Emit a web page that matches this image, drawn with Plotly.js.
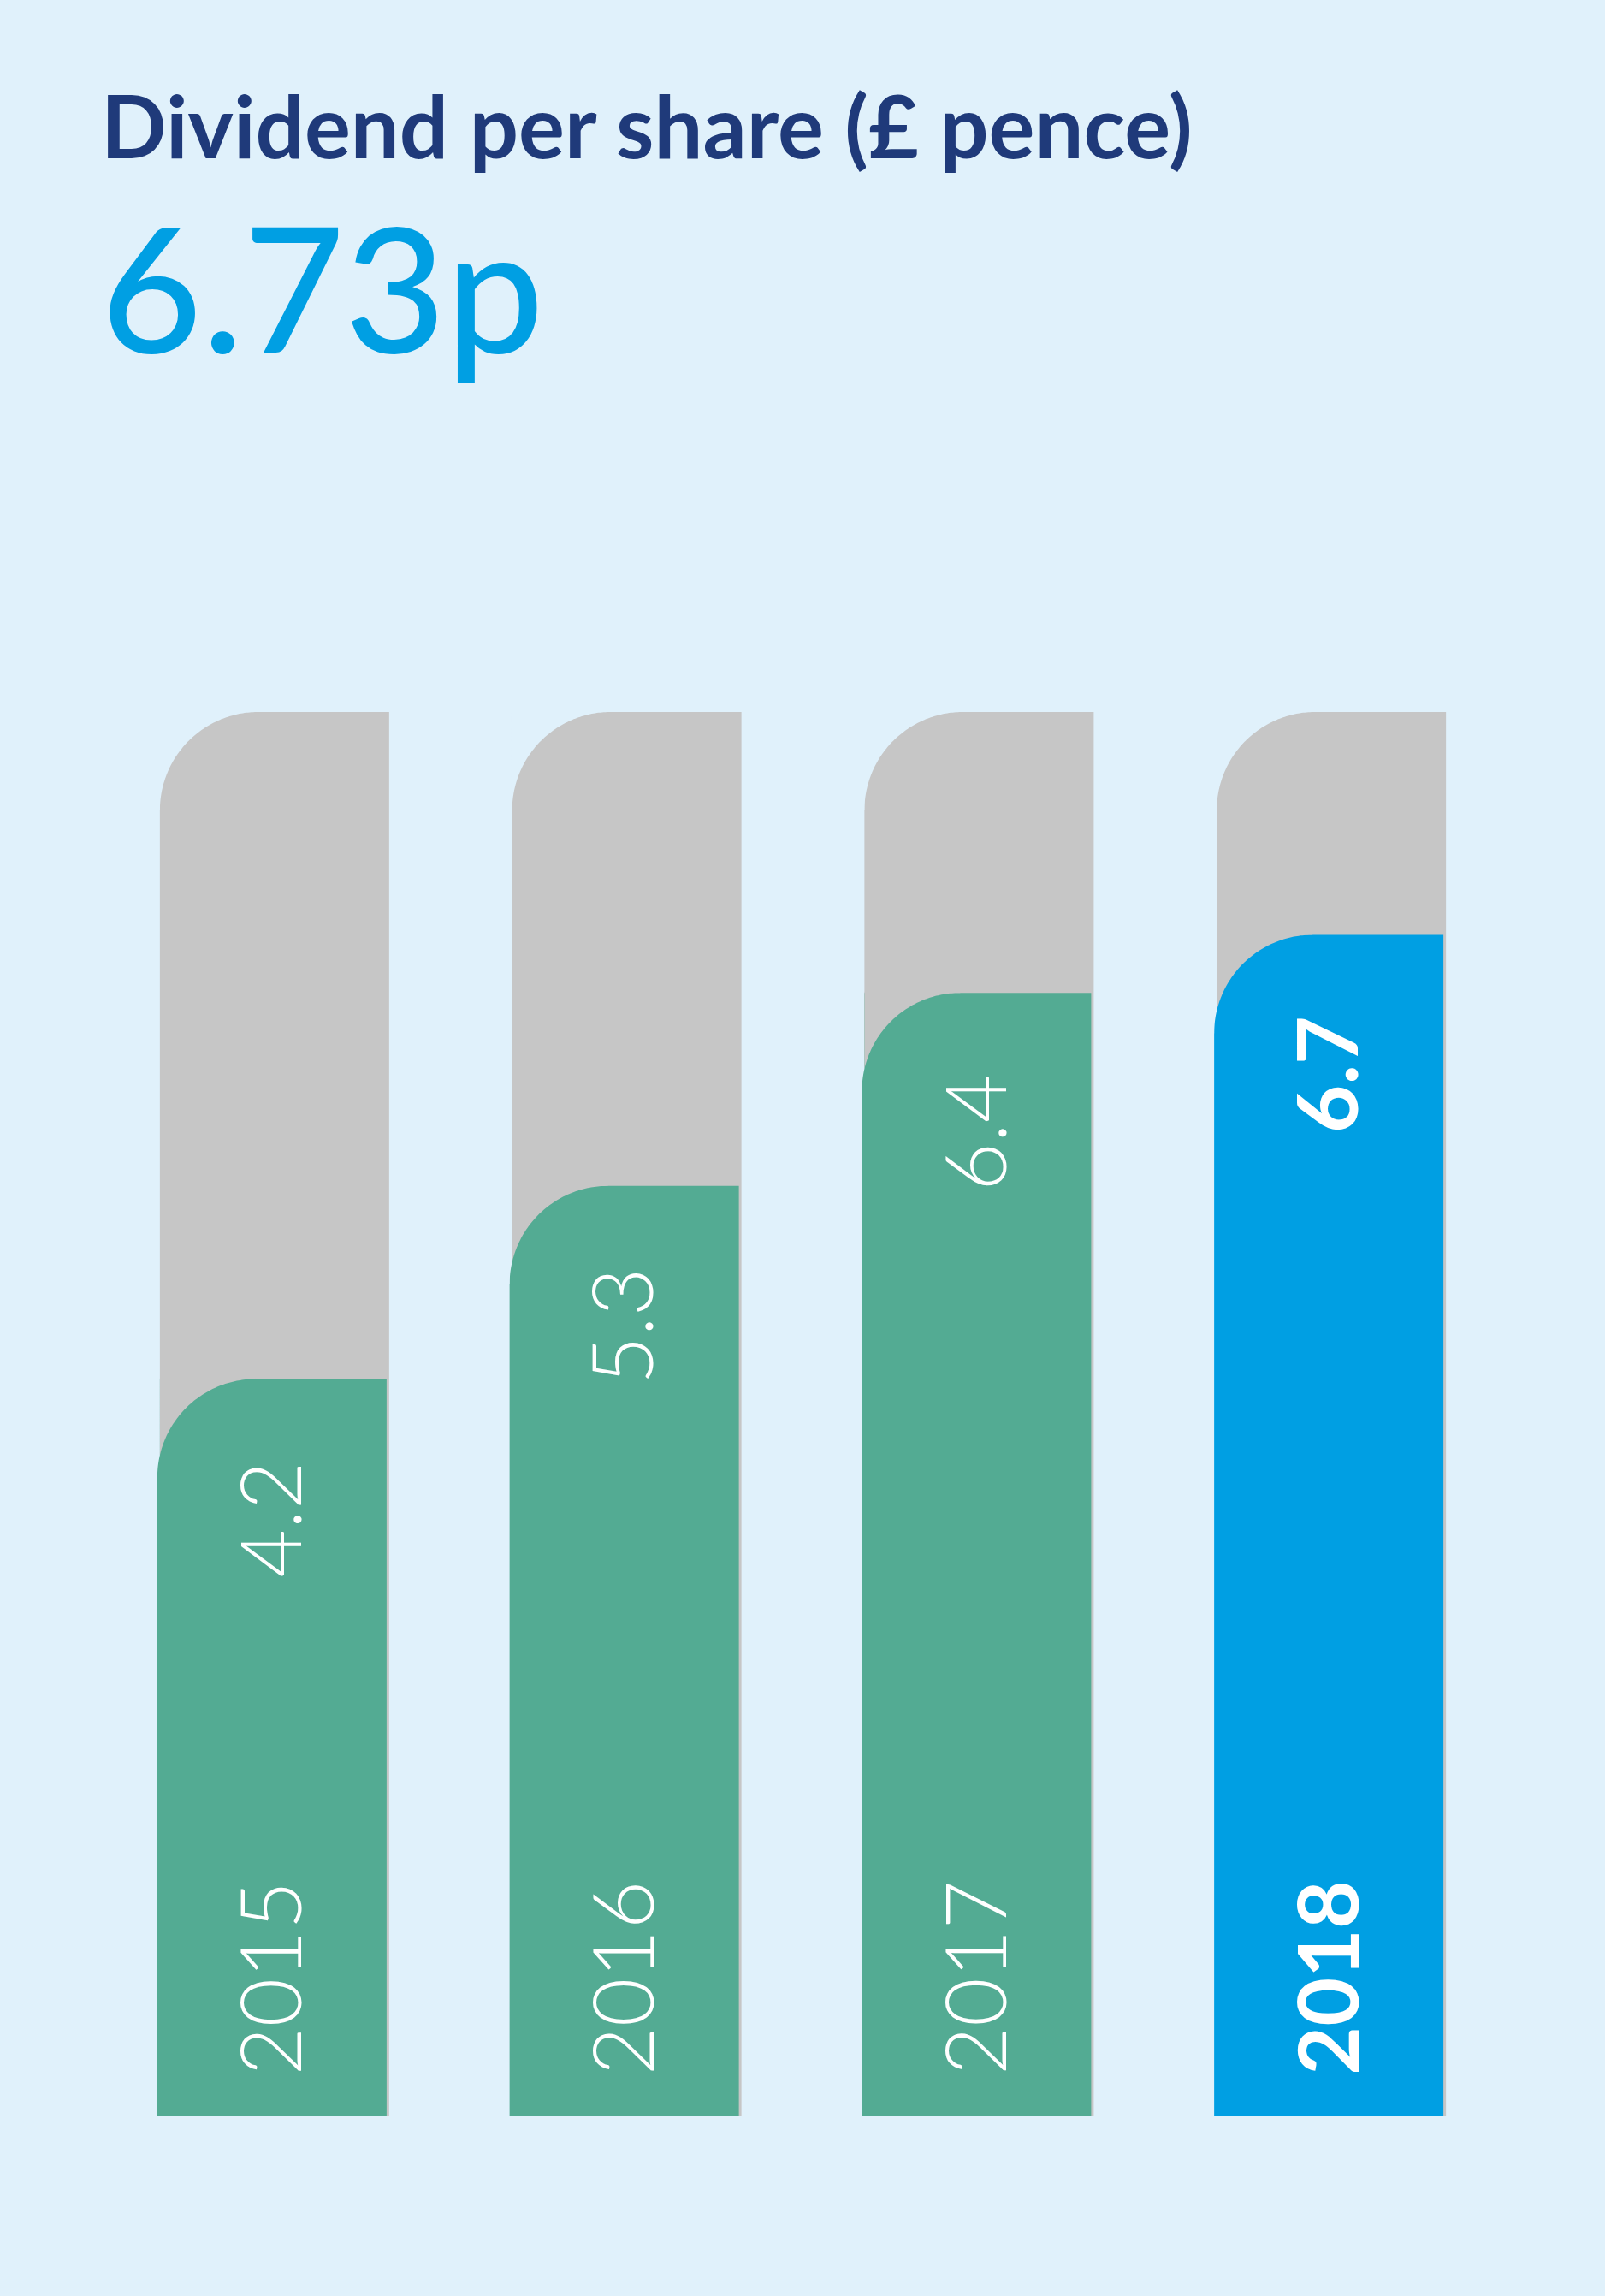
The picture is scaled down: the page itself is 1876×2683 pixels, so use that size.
<!DOCTYPE html>
<html>
<head>
<meta charset="utf-8">
<script src="https://cdn.plot.ly/plotly-3.0.1.min.js"></script>
<style>
html,body{margin:0;padding:0;background:#E0F1FB;}
#chart{width:1876px;height:2683px;}
</style>
</head>
<body>
<div id="chart"></div>
<script>
// ---- data ----
const years = ["2015", "2016", "2017", "2018"];
const dividends = [4.2, 5.3, 6.4, 6.73];
const trackMax = [8, 8, 8, 8];
const headline = "6.73p";
const chartTitle = "Dividend per share (£ pence)";

// ---- styling / layout constants ----
const W = 1876, H = 2683;
const M = {l: 115, r: 114, t: 832, b: 210};
const plotW = W - M.l - M.r, plotH = H - M.t - M.b;
const xRange = [-0.5, 3.5], yRange = [0, 8];
const pxX = plotW / (xRange[1] - xRange[0]);
const pxY = plotH / (yRange[1] - yRange[0]);
const barW = 268 / pxX;
const grayOff = -barW / 2;
const shiftPx = 3;
const colOff = grayOff - shiftPx / pxX;
const R = 115;
const BG = "#E0F1FB", GRAY = "#C6C6C6", GREEN = "#53AB93", BLUE = "#009FE3", NAVY = "#1F3A7A";
const barColors = [GREEN, GREEN, GREEN, BLUE];
const xs = years.map((_, i) => i);

// arc depth (px below the bar top) at horizontal px offset dx from the bar's left edge
function arcDy(dx) {
  if (dx <= 0) return R;
  if (dx >= R) return 0;
  return R - Math.sqrt(R * R - (R - dx) * (R - dx));
}
// polygon (in data units) covering the part of the top-left corner outside the arc, for dx in [dxMin, dxMax]
function cornerPoly(xL, v, dxMin, dxMax, fill) {
  const ext = 1.5;
  const pts = [];
  pts.push([dxMin, -ext]);
  pts.push([dxMin, arcDy(dxMin)]);
  const N = 90;
  for (let k = 0; k <= N; k++) {
    const phi = (Math.PI / 2) * k / N;
    const dx = R * (1 - Math.cos(phi));
    if (dx > dxMin && dx < dxMax) pts.push([dx, R * (1 - Math.sin(phi))]);
  }
  pts.push([dxMax, arcDy(dxMax)]);
  pts.push([dxMax, -ext]);
  const path = pts.map((p, j) => (j ? "L " : "M ") + (xL + p[0] / pxX) + "," + (v - p[1] / pxY)).join(" ") + " Z";
  return {type: "path", xref: "x", yref: "y", path: path, fillcolor: fill,
          line: {width: 0}, layer: "above"};
}

const shapes = [];
xs.forEach((x, i) => {
  shapes.push(cornerPoly(x + grayOff, trackMax[i], -1.5, R, BG));
  shapes.push(cornerPoly(x + colOff, dividends[i], -1.5, shiftPx, BG));
  shapes.push(cornerPoly(x + colOff, dividends[i], shiftPx, R, GRAY));
});

function px2paperX(px) { return (px - M.l) / plotW; }
function px2paperY(py) { return (H - M.b - py) / plotH; }

const annotations = [];
xs.forEach((x, i) => {
  const last = i === xs.length - 1;
  const cx = x + colOff + barW / 2;
  annotations.push({
    x: cx, y: dividends[i], xref: "x", yref: "y", text: dividends[i].toFixed(1),
    showarrow: false, textangle: -90, xanchor: "center", yanchor: "top",
    yshift: -93, xshift: -4,
    font: {family: "Lato", size: 98, color: "#FFFFFF", weight: last ? 700 : 300}
  });
  annotations.push({
    x: cx, y: 0, xref: "x", yref: "y", text: years[i],
    showarrow: false, textangle: -90, xanchor: "center", yanchor: "bottom",
    yshift: 46, xshift: -4,
    font: {family: "Lato", size: 98, color: "#FFFFFF", weight: last ? 700 : 300}
  });
});
annotations.push({
  x: px2paperX(116), y: px2paperY(146), xref: "paper", yref: "paper",
  text: chartTitle, showarrow: false, xanchor: "left", yanchor: "middle",
  font: {family: "Lato", size: 101, color: NAVY, weight: 700}
});
annotations.push({
  x: px2paperX(116), y: px2paperY(333), xref: "paper", yref: "paper",
  text: headline, showarrow: false, xanchor: "left", yanchor: "middle",
  font: {family: "Lato", size: 204, color: BLUE, weight: 500}
});

const traces = [
  {type: "bar", x: xs, y: trackMax, width: barW, offset: grayOff,
   marker: {color: GRAY, line: {width: 0}}, hoverinfo: "skip", name: "max"},
  {type: "bar", x: xs, y: dividends, width: barW, offset: colOff,
   marker: {color: barColors, line: {width: 0}}, name: "Dividend",
   customdata: years, hovertemplate: "%{customdata}: %{y}p<extra></extra>"}
];

const layout = {
  width: W, height: H,
  margin: M,
  paper_bgcolor: BG, plot_bgcolor: BG,
  barmode: "overlay", showlegend: false,
  xaxis: {range: xRange, visible: false, fixedrange: true},
  yaxis: {range: yRange, visible: false, fixedrange: true},
  shapes: shapes, annotations: annotations
};

Plotly.newPlot("chart", traces, layout, {displayModeBar: false, staticPlot: true});
</script>
</body>
</html>
